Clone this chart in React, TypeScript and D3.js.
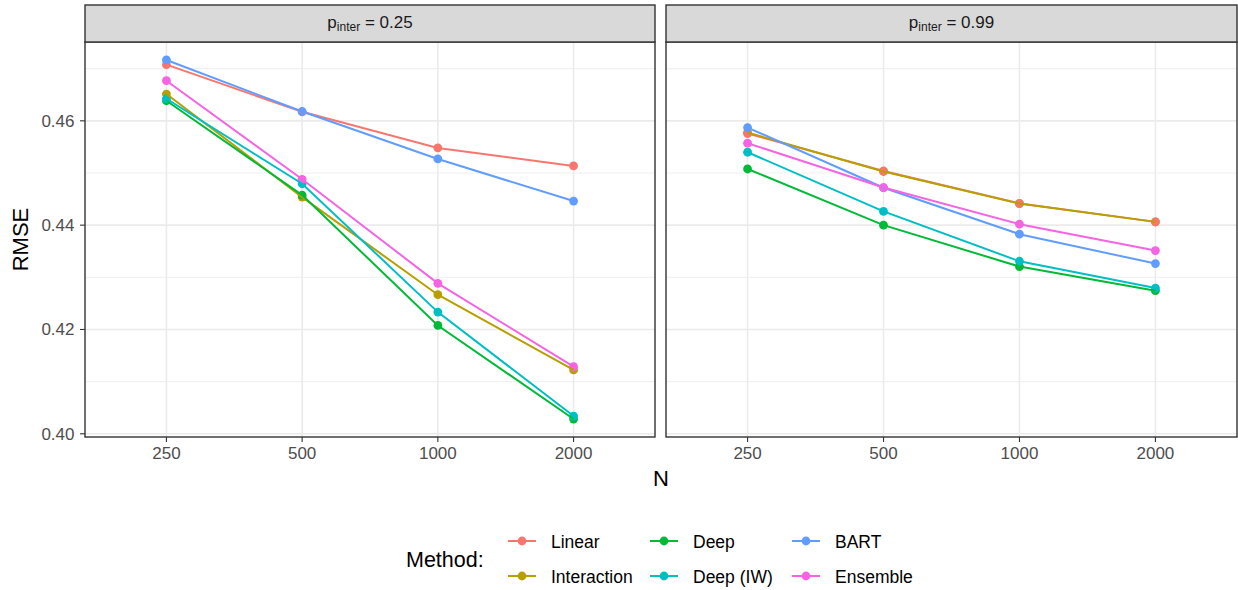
import React from "react";
import * as d3 from "d3";

const Ns = ["250", "500", "1000", "2000"];
const methods = ["Linear", "Interaction", "Deep", "Deep (IW)", "BART", "Ensemble"];
const colors = ["#F8766D", "#B79F00", "#00BA38", "#00BFC4", "#619CFF", "#F564E3"];
const panelLabels = ["0.25", "0.99"];
const yTicks = [0.4, 0.42, 0.44, 0.46];
const yMinor = [0.41, 0.43, 0.45, 0.47];

// values per panel, per method, per N
const left_Linear = [0.47077, 0.46173, 0.45481, 0.45135];
const left_Interaction = [0.46513, 0.44538, 0.42667, 0.41225];
const left_Deep = [0.46385, 0.44577, 0.42077, 0.40283];
const left_DeepIW = [0.46423, 0.44794, 0.42333, 0.4034];
const left_BART = [0.47167, 0.46179, 0.45269, 0.44462];
const left_Ensemble = [0.46769, 0.44879, 0.42885, 0.41288];

const right_Linear = [0.45756, 0.45038, 0.44417, 0.44063];
const right_Interaction = [0.45775, 0.45029, 0.44413, 0.44063];
const right_Deep = [0.45077, 0.44, 0.43206, 0.42744];
const right_DeepIW = [0.45398, 0.44263, 0.43308, 0.42794];
const right_BART = [0.45871, 0.44717, 0.43827, 0.43263];
const right_Ensemble = [0.45571, 0.44721, 0.44019, 0.43513];

const panelData = [
  [left_Linear, left_Interaction, left_Deep, left_DeepIW, left_BART, left_Ensemble],
  [right_Linear, right_Interaction, right_Deep, right_DeepIW, right_BART, right_Ensemble],
];

const FONT = "'Liberation Sans', Arial, Helvetica, sans-serif";

export default function App() {
  const W = 1238, H = 590;
  const panelTop = 42, panelBottom = 437, stripTop = 5;
  const panels = [
    { x0: 85, x1: 655 },
    { x0: 666, x1: 1237 },
  ];
  const allVals = panelData.flat(2);
  const vmin = d3.min(allVals)!, vmax = d3.max(allVals)!;
  const pad = (vmax - vmin) * 0.05;
  const y = d3.scaleLinear().domain([vmin - pad, vmax + pad]).range([panelBottom, panelTop]);

  const pointOrder = [1, 0, 2, 3, 4, 5];

  return (
    <svg width={W} height={H} style={{ display: "block", position: "absolute", left: 0, top: 0, background: "#fff" }} fontFamily={FONT}>
      <rect x={0} y={0} width={W} height={H} fill="#fff" />
      {panels.map((p, pi) => {
        const x = d3.scalePoint<string>().domain(Ns).range([p.x0, p.x1]).padding(0.6);
        const line = d3.line<number>().x((_, i) => x(Ns[i])!).y((v) => y(v));
        const data = panelData[pi];
        const cx = (p.x0 + p.x1) / 2;
        return (
          <g key={pi}>
            <clipPath id={`clip${pi}`}>
              <rect x={p.x0} y={panelTop} width={p.x1 - p.x0} height={panelBottom - panelTop} />
            </clipPath>
            <g clipPath={`url(#clip${pi})`}>
              {yMinor.map((t) => (
                <line key={"m" + t} x1={p.x0} x2={p.x1} y1={y(t)} y2={y(t)} stroke="#EBEBEB" strokeWidth={0.8} />
              ))}
              {yTicks.map((t) => (
                <line key={"g" + t} x1={p.x0} x2={p.x1} y1={y(t)} y2={y(t)} stroke="#EBEBEB" strokeWidth={1.6} />
              ))}
              {Ns.map((n) => (
                <line key={"x" + n} x1={x(n)} x2={x(n)} y1={panelTop} y2={panelBottom} stroke="#EBEBEB" strokeWidth={1.6} />
              ))}
              {pointOrder.map((mi) => (
                <g key={"p" + mi}>
                  {data[mi].map((v, i) => (
                    <circle key={i} cx={x(Ns[i])} cy={y(v)} r={4.4} fill={colors[mi]} />
                  ))}
                </g>
              ))}
              {data.map((vals, mi) => (
                <path key={"l" + mi} d={line(vals)!} fill="none" stroke={colors[mi]} strokeWidth={2} />
              ))}
            </g>
            <rect x={p.x0} y={panelTop} width={p.x1 - p.x0} height={panelBottom - panelTop} fill="none" stroke="#333333" strokeWidth={1.4} />
            <rect x={p.x0} y={stripTop} width={p.x1 - p.x0} height={panelTop - stripTop} fill="#D9D9D9" stroke="#333333" strokeWidth={1.4} />
            <text x={cx} y={28} textAnchor="middle" fontSize={17} fill="#1A1A1A">
              <tspan>p</tspan>
              <tspan fontSize={12} dy={3}>inter</tspan>
              <tspan dy={-3}> = {panelLabels[pi]}</tspan>
            </text>
            {Ns.map((n) => (
              <g key={"xt" + n}>
                <line x1={x(n)} x2={x(n)} y1={panelBottom} y2={panelBottom + 5} stroke="#333333" strokeWidth={1.1} />
                <text x={x(n)} y={459} textAnchor="middle" fontSize={17} fill="#4D4D4D">{n}</text>
              </g>
            ))}
          </g>
        );
      })}
      {yTicks.map((t) => (
        <g key={"yt" + t}>
          <line x1={80} x2={85} y1={y(t)} y2={y(t)} stroke="#333333" strokeWidth={1.1} />
          <text x={74.5} y={y(t) + 6} textAnchor="end" fontSize={17} fill="#4D4D4D">{t.toFixed(2)}</text>
        </g>
      ))}
      <text transform={`translate(28, ${(panelTop + panelBottom) / 2}) rotate(-90)`} textAnchor="middle" fontSize={22} fill="#000">RMSE</text>
      <text x={661} y={486} textAnchor="middle" fontSize={22} fill="#000">N</text>
      <text x={406} y={567} fontSize={21.5} fill="#000">Method:</text>
      {methods.map((m, i) => {
        const col = Math.floor(i / 2);
        const row = i % 2;
        const kx = 522 + col * 142;
        const ky = 541 + row * 35;
        return (
          <g key={m}>
            <line x1={kx - 14} x2={kx + 14} y1={ky} y2={ky} stroke={colors[i]} strokeWidth={2} />
            <circle cx={kx} cy={ky} r={4.4} fill={colors[i]} />
            <text x={kx + 29} y={ky + 6.5} fontSize={17.5} fill="#000">{m}</text>
          </g>
        );
      })}
    </svg>
  );
}
